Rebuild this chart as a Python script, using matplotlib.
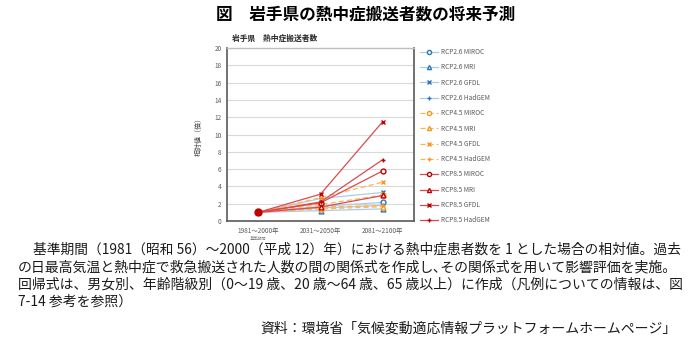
import matplotlib
matplotlib.use("Agg")
import matplotlib.pyplot as plt

plt.rcParams['font.family'] = ['Noto Sans CJK JP', 'DejaVu Sans']

# data
periods = ['1981～2000年', '2031～2050年', '2081～2100年']
models = ['MIROC', 'MRI', 'GFDL', 'HadGEM']

rcp26_miroc = [1.0, 1.7, 2.15]
rcp26_mri = [1.0, 1.2, 1.4]
rcp26_gfdl = [1.0, 2.6, 3.3]
rcp26_hadgem = [1.0, 1.5, 1.8]

rcp45_miroc = [1.0, 1.9, 3.0]
rcp45_mri = [1.0, 1.4, 1.65]
rcp45_gfdl = [1.0, 2.7, 4.5]
rcp45_hadgem = [1.0, 1.6, 1.8]

rcp85_miroc = [1.0, 2.1, 5.8]
rcp85_mri = [1.0, 1.6, 2.95]
rcp85_gfdl = [1.0, 3.1, 11.5]
rcp85_hadgem = [1.0, 2.2, 7.1]

series = [
    ('RCP2.6', [rcp26_miroc, rcp26_mri, rcp26_gfdl, rcp26_hadgem]),
    ('RCP4.5', [rcp45_miroc, rcp45_mri, rcp45_gfdl, rcp45_hadgem]),
    ('RCP8.5', [rcp85_miroc, rcp85_mri, rcp85_gfdl, rcp85_hadgem]),
]

styles = {
    'RCP2.6': dict(line='#A9CCEB', mark='#2E75B6', ls='-'),
    'RCP4.5': dict(line='#FFB54D', mark='#F39A1E', ls=(0, (4, 2.5))),
    'RCP8.5': dict(line='#DD4A4E', mark='#C00000', ls='-'),
}
markers = {'MIROC': 'o', 'MRI': '^', 'GFDL': 'x', 'HadGEM': '+'}

fig = plt.figure(figsize=(6.9, 3.47), dpi=100)
W, H = 690, 347
ax = fig.add_axes([227 / W, 1 - 221 / H, 187 / W, 173 / H])

x = list(range(len(periods)))
handles = []
labels = []
z = 2
for rcp, vals in series:
    st = styles[rcp]
    for m, v in zip(models, vals):
        mk = markers[m]
        ln, = ax.plot(x, v, color=st['line'], ls=st['ls'], lw=0.9,
                      marker=mk, ms=3.5,
                      mfc='white' if mk in 'o^' else st['mark'],
                      mec=st['mark'], mew=1.0, zorder=z)
        z += 1
        handles.append(ln)
        labels.append(rcp + ' ' + m)

# base point drawn as big red dot like the reference
ax.plot([0], [1.0], 'o', color='#C00000', ms=5, zorder=z + 1)

ax.set_xlim(-0.5, 2.5)
ax.set_ylim(0, 20)
ax.set_yticks(range(0, 21, 2))
ax.set_xticks(x)
ax.set_xticklabels(periods)
ax.tick_params(length=0, labelsize=4.6, colors='#595959', pad=4)
ax.grid(axis='y', color='#D9D9D9', lw=0.8)
ax.set_axisbelow(True)
for s in ['left', 'bottom', 'right']:
    ax.spines[s].set_color('#595959')
    ax.spines[s].set_linewidth(1.2)
ax.spines['top'].set_color('#BFBFBF')
ax.spines['top'].set_linewidth(1.0)
ax.set_ylabel('相対値（倍）', fontsize=5, color='#404040', labelpad=8)

ax.legend(handles, labels, loc='upper left',
          bbox_to_anchor=(420 / W, 1 - 48 / H), bbox_transform=fig.transFigure,
          frameon=False, fontsize=4.7, handlelength=2.8, handletextpad=0.45,
          labelspacing=1.12, borderpad=0, borderaxespad=0, labelcolor='#595959',
          markerscale=0.85)

fig.text(232 / W, 1 - 38 / H, '岩手県　熱中症搬送者数', fontsize=5.6,
         weight='bold', color='#262626', va='center')
fig.text(258 / W, 1 - 239 / H, '基準期間', fontsize=3, color='#7F7F7F',
         ha='center', va='center')

fig.text(366 / W, 1 - 15 / H, '図　岩手県の熱中症搬送者数の将来予測',
         fontsize=12, weight='bold', ha='center', va='center')

caption = [
    (33, 250, '基準期間（1981（昭和 56）～2000（平成 12）年）における熱中症患者数を 1 とした場合の相対値。過去', True),
    (18, 267, 'の日最高気温と熱中症で救急搬送された人数の間の関係式を作成し､その関係式を用いて影響評価を実施。', True),
    (18, 285, '回帰式は、男女別、年齢階級別（0～19 歳、20 歳～64 歳、65 歳以上）に作成（凡例についての情報は、図', True),
    (18, 302, '7-14 参考を参照）', False),
]
renderer = fig.canvas.get_renderer()
for cx, cy, t, fit in caption:
    txt = fig.text(cx / W, 1 - cy / H, t, fontsize=10, va='center', color='#1a1a1a')
    if fit:
        # scale the font so the line fills up to the right margin, like justified text
        w = txt.get_window_extent(renderer).width
        txt.set_fontsize(10 * (680 - cx) / w)
fig.text(677 / W, 1 - 329 / H, '資料：環境省「気候変動適応情報プラットフォームホームページ」',
         fontsize=10, ha='right', va='center', color='#1a1a1a')

fig.savefig('out.png', dpi=100)
